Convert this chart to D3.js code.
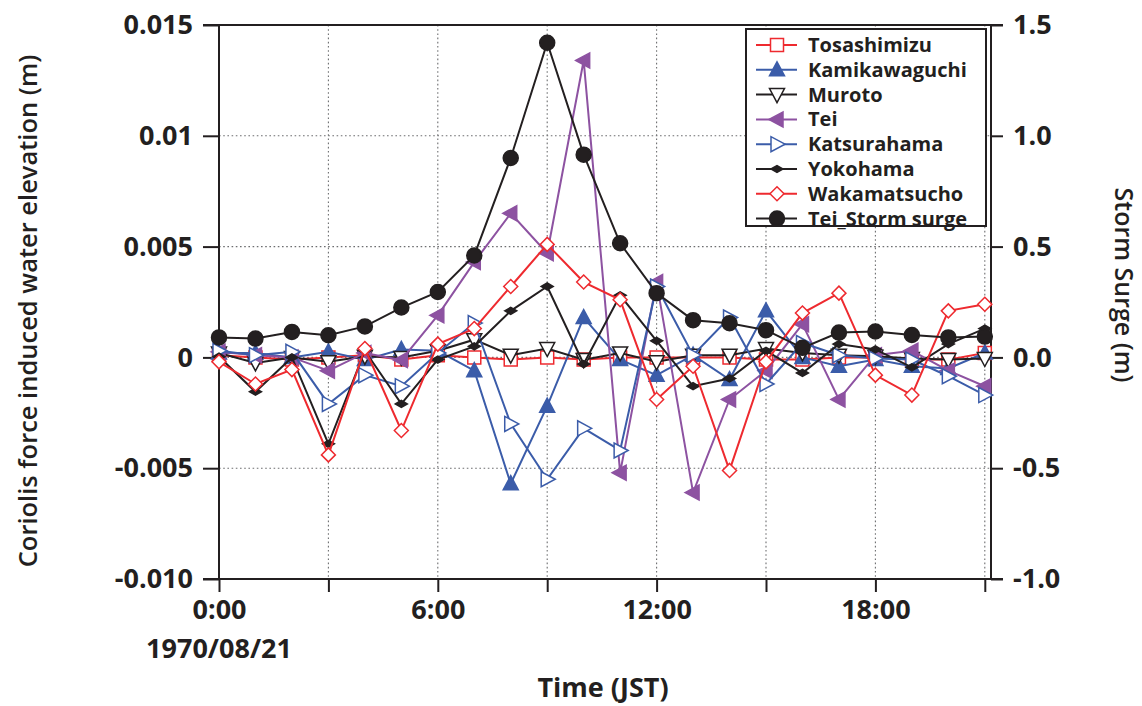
<!DOCTYPE html>
<html>
<head>
<meta charset="utf-8">
<script src="https://cdn.jsdelivr.net/npm/d3@7"></script>
<style>
  html, body { margin: 0; padding: 0; background: #fff; }
  svg { display: block; }
  text { font-family: "Open Sans", "Noto Sans", sans-serif; fill: #231f20; }
</style>
</head>
<body>
<svg id="chart" width="1142" height="706"></svg>
<script>
// Hourly samples, 1970/08/21 0:00 .. 21:00 JST
const hours = [0,1,2,3,4,5,6,7,8,9,10,11,12,13,14,15,16,17,18,19,20,21];

// Coriolis-force induced water elevation (m) at each gauge
const tosashimizu  = [0.0001, 0.0000, -0.0001, 0.0000, 0.0001, -0.0001, 0.0001, 0.0000, -0.0001, 0.0000, -0.0001, 0.0000, 0.0000, 0.0000, 0.0000, -0.0001, -0.0001, 0.0000, 0.0000, -0.0001, -0.0001, 0.0002];
const kamikawaguchi = [0.0002, 0.0002, 0.0000, 0.00025, -0.0001, 0.00036, 0.0003, -0.0006, -0.0057, -0.0022, 0.0018, -0.0001, -0.0008, 0.0001, -0.0010, 0.0021, 0.0000, -0.0004, -0.0001, -0.0004, -0.0005, 0.0002];
const muroto       = [0.0002, -0.00025, 0.0000, -0.0002, 0.00005, 0.0000, 0.0003, 0.0008, 0.0001, 0.0004, -0.0001, 0.0002, -0.0002, 0.0001, 0.0001, 0.0004, 0.0002, 0.0001, 0.00005, -0.00005, -0.0001, -0.00005];
const tei          = [0.00025, 0.0001, 0.0000, -0.0006, 0.0002, -0.00012, 0.0019, 0.0043, 0.0065, 0.0047, 0.0134, -0.0052, 0.0034, -0.0061, -0.0019, -0.0006, 0.0015, -0.0019, 0.0001, 0.0003, -0.0006, -0.0013];
const katsurahama  = [0.0003, 0.0001, 0.00025, -0.0021, -0.0008, -0.0013, 0.0002, 0.00155, -0.0030, -0.0055, -0.0032, -0.0042, 0.0032, 0.0001, 0.0018, -0.0012, 0.00065, 0.0001, -0.00005, -0.0001, -0.00085, -0.0017];
const yokohama     = [0.00003, -0.00155, 0.0000, -0.0039, 0.0003, -0.0021, -0.0001, 0.0005, 0.0021, 0.0032, -0.0003, 0.0028, 0.00075, -0.0013, -0.00095, 0.0003, -0.0007, 0.0006, 0.00036, -0.00045, 0.0006, 0.0013];
const wakamatsucho = [-0.0002, -0.0012, -0.00055, -0.0044, 0.0004, -0.0033, 0.0006, 0.0013, 0.0032, 0.0051, 0.0034, 0.0026, -0.0019, -0.0004, -0.0051, -0.0002, 0.0020, 0.0029, -0.0008, -0.0017, 0.0021, 0.0024];

// Storm surge at Tei (m), right axis
const teiStormSurge = [0.09, 0.085, 0.115, 0.10, 0.14, 0.225, 0.295, 0.46, 0.90, 1.42, 0.915, 0.515, 0.29, 0.168, 0.154, 0.123, 0.043, 0.112, 0.117, 0.101, 0.09, 0.094];

// Axis ticks
const xTicks = [0, 3, 6, 9, 12, 15, 18, 21];
const xTickLabels = {0: "0:00", 6: "6:00", 12: "12:00", 18: "18:00"};
const yTicks = [0.015, 0.01, 0.005, 0, -0.005, -0.010];
const yTickLabels = ["0.015", "0.01", "0.005", "0", "-0.005", "-0.010"];
const y2Ticks = [1.5, 1.0, 0.5, 0.0, -0.5, -1.0];
const y2TickLabels = ["1.5", "1.0", "0.5", "0.0", "-0.5", "-1.0"];

const RED = "#ee2a2f", BLUE = "#3b5ca9", PURPLE = "#8d52a1", BLACK = "#231f20";

const series = [
  {name: "Tosashimizu",   values: tosashimizu,   color: RED,    marker: "square",   fill: "#fff"},
  {name: "Kamikawaguchi", values: kamikawaguchi, color: BLUE,   marker: "triUp",    fill: BLUE},
  {name: "Muroto",        values: muroto,        color: BLACK,  marker: "triDown",  fill: "#fff"},
  {name: "Tei",           values: tei,           color: PURPLE, marker: "triLeft",  fill: PURPLE},
  {name: "Katsurahama",   values: katsurahama,   color: BLUE,   marker: "triRight", fill: "#fff"},
  {name: "Yokohama",      values: yokohama,      color: BLACK,  marker: "smallDia", fill: BLACK},
  {name: "Wakamatsucho",  values: wakamatsucho,  color: RED,    marker: "diamond",  fill: "#fff"},
  {name: "Tei_Storm surge", values: teiStormSurge, color: BLACK, marker: "circle",  fill: BLACK, right: true}
];

const svg = d3.select("#chart");
const plotL = 219, plotR = 991, plotT = 25, plotB = 579;

const x = d3.scaleLinear().domain([0, 21.17]).range([plotL, plotR]);
const y = d3.scaleLinear().domain([-0.010, 0.015]).range([plotB, plotT]);
const y2 = d3.scaleLinear().domain([-1.0, 1.5]).range([plotB, plotT]);

// Dotted grid
const grid = svg.append("g").attr("stroke", "#6d6e70").attr("stroke-width", 1.1).attr("stroke-dasharray", "1.6,2.6");
grid.selectAll("line.v").data(xTicks.filter(d => d > 0)).join("line").attr("class", "v")
  .attr("x1", d => x(d)).attr("x2", d => x(d)).attr("y1", plotT).attr("y2", plotB);
grid.selectAll("line.h").data(yTicks.filter(d => d < 0.015 && d > -0.010)).join("line").attr("class", "h")
  .attr("x1", plotL).attr("x2", plotR).attr("y1", d => y(d)).attr("y2", d => y(d));

// Axes
const fs = 27;
const axL = svg.append("g").attr("transform", `translate(${plotL},0)`)
  .call(d3.axisLeft(y).tickValues(yTicks).tickSize(16).tickPadding(10)
    .tickFormat((d, i) => yTickLabels[i]));
const axR = svg.append("g").attr("transform", `translate(${plotR},0)`)
  .call(d3.axisRight(y2).tickValues(y2Ticks).tickSize(12).tickPadding(10)
    .tickFormat((d, i) => y2TickLabels[i]));
const axB = svg.append("g").attr("transform", `translate(0,${plotB})`)
  .call(d3.axisBottom(x).tickValues(xTicks).tickSize(13).tickPadding(8)
    .tickFormat(d => xTickLabels[d] || ""));
[axL, axR, axB].forEach(a => {
  a.select(".domain").attr("stroke", BLACK).attr("stroke-width", 2);
  a.selectAll(".tick line").attr("stroke", BLACK).attr("stroke-width", 2);
  a.selectAll("text").attr("font-size", fs).attr("font-weight", 700)
    .attr("font-family", "\"Open Sans\", sans-serif").attr("fill", BLACK);
});
axL.select(".domain").attr("d", `M-16,${plotT}H0V${plotB}H-16`);
axR.select(".domain").attr("d", `M12,${plotT}H0V${plotB}H12`);
axB.select(".domain").attr("d", `M${plotL - 16},0H${plotR}`);
// top frame
svg.append("line").attr("x1", plotL).attr("x2", plotR).attr("y1", plotT).attr("y2", plotT)
  .attr("stroke", BLACK).attr("stroke-width", 2);

// date under the first time label
svg.append("text").attr("x", x(0)).attr("y", 658).attr("text-anchor", "middle")
  .attr("font-size", fs).attr("font-weight", 700).text("1970/08/21");

// Axis titles
svg.append("text").attr("x", 603).attr("y", 697).attr("text-anchor", "middle")
  .attr("font-size", 27).attr("font-weight", 700).text("Time (JST)");
svg.append("text").attr("transform", "translate(37,311) rotate(-90)").attr("text-anchor", "middle")
  .attr("font-size", 25.5).attr("font-weight", 600).text("Coriolis force induced water elevation (m)");
svg.append("text").attr("transform", "translate(1115,285) rotate(90)").attr("text-anchor", "middle")
  .attr("font-size", 25).attr("font-weight", 600).text("Storm Surge (m)");

// Marker shapes
function markerPath(type) {
  switch (type) {
    case "square":   return "M-6.5,-6.5H6.5V6.5H-6.5Z";
    case "triUp":    return "M0,-8L7.5,6L-7.5,6Z";
    case "triDown":  return "M0,8L7.5,-6L-7.5,-6Z";
    case "triLeft":  return "M-8,0L6,-7.5L6,7.5Z";
    case "triRight": return "M8,0L-6,-7.5L-6,7.5Z";
    case "smallDia": return "M-6,0L0,-3.5L6,0L0,3.5Z";
    case "diamond":  return "M0,-7L7,0L0,7L-7,0Z";
    case "circle":   return d3.symbol().type(d3.symbolCircle).size(Math.PI * 7.5 * 7.5)();
  }
}

const plot = svg.append("g");
series.forEach(s => {
  const ys = s.right ? y2 : y;
  const g = plot.append("g");
  g.append("path").datum(s.values)
    .attr("fill", "none").attr("stroke", s.color).attr("stroke-width", 2)
    .attr("stroke-linejoin", "miter")
    .attr("d", d3.line().x((d, i) => x(hours[i])).y(d => ys(d)));
  g.selectAll("path.m").data(s.values).join("path")
    .attr("class", "m")
    .attr("transform", (d, i) => `translate(${x(hours[i])},${ys(d)})`)
    .attr("d", markerPath(s.marker))
    .attr("fill", s.fill).attr("stroke", s.color).attr("stroke-width", 1.5);
});

// Legend
const lg = svg.append("g").attr("transform", "translate(746,29)");
lg.append("rect").attr("width", 240).attr("height", 197)
  .attr("fill", "#fff").attr("stroke", BLACK).attr("stroke-width", 2);
series.forEach((s, i) => {
  const cy = 16 + i * 24.8;
  lg.append("line").attr("x1", 10).attr("x2", 51).attr("y1", cy).attr("y2", cy)
    .attr("stroke", s.color).attr("stroke-width", 2);
  lg.append("path").attr("transform", `translate(31,${cy})`).attr("d", markerPath(s.marker))
    .attr("fill", s.fill).attr("stroke", s.color).attr("stroke-width", 1.5);
  lg.append("text").attr("x", 62).attr("y", cy).attr("dy", "0.35em")
    .attr("font-size", 20).attr("font-weight", 700).text(s.name);
});
</script>
</body>
</html>
